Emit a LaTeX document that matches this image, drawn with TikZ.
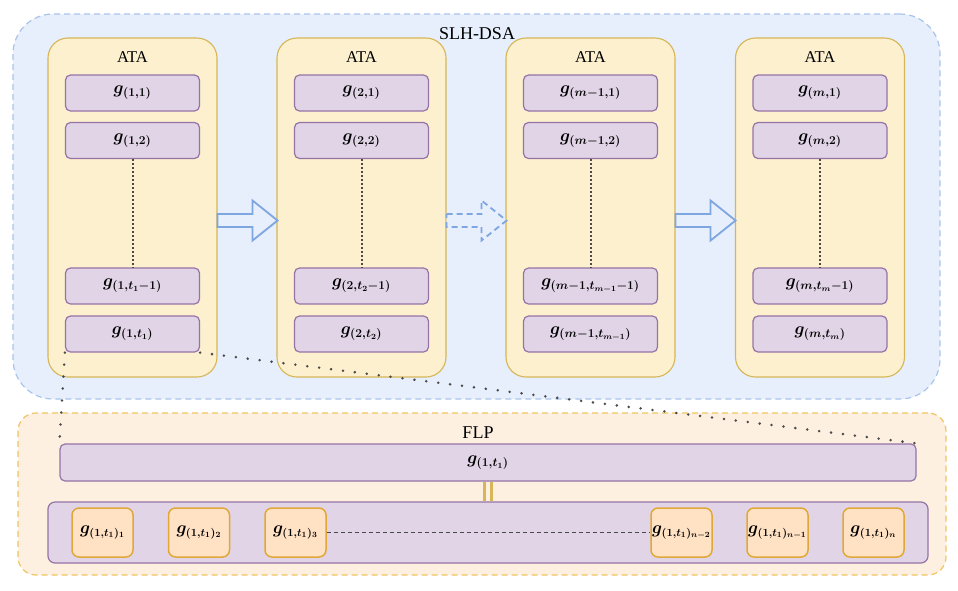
\documentclass[tikz,border=0pt]{standalone}
\usepackage{amsmath}
\usepackage{fontspec}
\setmainfont{Liberation Serif}
\usetikzlibrary{calc}
\definecolor{bluefill}{HTML}{E7EFFC}
\definecolor{bluedraw}{HTML}{A9C4EB}
\definecolor{arrowblue}{HTML}{7EA6E0}
\definecolor{atafill}{HTML}{FCF0CF}
\definecolor{atadraw}{HTML}{D6B656}
\definecolor{purfill}{HTML}{E0D4E6}
\definecolor{purdraw}{HTML}{9673A6}
\definecolor{flpfill}{HTML}{FDF0E0}
\definecolor{flpdraw}{HTML}{F0C462}
\definecolor{orfill}{HTML}{FFE1C4}
\definecolor{ordraw}{HTML}{E0A838}
\definecolor{dotgray}{HTML}{4A4A4A}
\tikzset{
  bluegrp/.style={draw=bluedraw, fill=bluefill, dash pattern=on 6pt off 4pt, line width=1.2pt, rounded corners=40pt, inner sep=0pt},
  flpgrp/.style={draw=flpdraw, fill=flpfill, dash pattern=on 6pt off 4pt, line width=1.2pt, rounded corners=18pt, inner sep=0pt},
  atabox/.style={draw=atadraw, fill=atafill, line width=1.1pt, rounded corners=20pt, minimum width=169pt, minimum height=339pt, inner sep=0pt},
  gbox/.style={draw=purdraw, fill=purfill, line width=1.2pt, rounded corners=5pt, minimum width=134pt, minimum height=36pt, inner sep=0pt, font=\fontsize{16.5}{19}\selectfont\boldmath},
  contbox/.style={draw=purdraw, fill=purfill, line width=1.2pt, rounded corners=7pt, inner sep=0pt},
  obox/.style={draw=ordraw, fill=orfill, line width=1.5pt, rounded corners=7pt, minimum width=61pt, minimum height=49pt, inner sep=0pt, font=\fontsize{16}{19}\selectfont\boldmath},
  titletext/.style={font=\fontsize{18}{21}\selectfont, inner sep=0pt},
  atatext/.style={font=\fontsize{16.5}{19}\selectfont, inner sep=0pt},
  blockarrow/.style={draw=arrowblue, fill=bluefill, line width=1.8pt, line join=miter},
  vdots/.style={draw=dotgray, line width=2pt, dash pattern=on 2pt off 2pt},
  zoomdots/.style={draw=dotgray, line width=2.8pt, line cap=round, dash pattern=on 0pt off 12pt},
  hdash/.style={draw=dotgray, line width=1.5pt, dash pattern=on 4pt off 3pt},
  dblline/.style={draw=atadraw, line width=2.8pt},
}
\begin{document}
\begin{tikzpicture}[x=1pt,y=-1pt]
\useasboundingbox (0,0) rectangle (958,590);
% SLH-DSA group
\node[bluegrp, minimum width=927pt, minimum height=385pt] (slh) at (476.5,206.5) {};
\node[titletext] (slhlbl) at (477,34) {SLH-DSA};
% ATA columns
\foreach \i/\x in {1/132.5, 2/361.5, 3/590.5, 4/820} {
  \node[atabox] (ata\i) at (\x,207.5) {};
  \node[atatext] (atalbl\i) at (\x,57) {ATA};
}
% g boxes
\node[gbox] (g11) at (132.5,93) {$g_{(1,1)}$};
\node[gbox] (g12) at (132.5,140.5) {$g_{(1,2)}$};
\node[gbox] (g13) at (132.5,286) {$g_{(1,t_1-1)}$};
\node[gbox] (g14) at (132.5,334) {$g_{(1,t_1)}$};
\node[gbox] (g21) at (361.5,93) {$g_{(2,1)}$};
\node[gbox] (g22) at (361.5,140.5) {$g_{(2,2)}$};
\node[gbox] (g23) at (361.5,286) {$g_{(2,t_2-1)}$};
\node[gbox] (g24) at (361.5,334) {$g_{(2,t_2)}$};
\node[gbox] (g31) at (590.5,93) {$g_{(m-1,1)}$};
\node[gbox] (g32) at (590.5,140.5) {$g_{(m-1,2)}$};
\node[gbox] (g33) at (590.5,286) {$g_{(m-1,t_{m-1}-1)}$};
\node[gbox] (g34) at (590.5,334) {$g_{(m-1,t_{m-1})}$};
\node[gbox] (g41) at (820,93) {$g_{(m,1)}$};
\node[gbox] (g42) at (820,140.5) {$g_{(m,2)}$};
\node[gbox] (g43) at (820,286) {$g_{(m,t_m-1)}$};
\node[gbox] (g44) at (820,334) {$g_{(m,t_m)}$};
\foreach \i in {1,2,3,4} {
  \draw[vdots] (g\i2.south) -- (g\i3.north);
}
% block arrows
\draw[blockarrow] ([yshift=-6.5pt]ata1.east) -- ++(35,0) -- ++(0,-13.5) -- ++(25,20) -- ++(-25,20) -- ++(0,-13.5) -- ++(-35,0) -- cycle;
\draw[blockarrow, dash pattern=on 6pt off 4pt] ([yshift=-6.5pt]ata2.east) -- ++(35,0) -- ++(0,-13.5) -- ++(25,20) -- ++(-25,20) -- ++(0,-13.5) -- ++(-35,0) -- cycle;
\draw[blockarrow] ([yshift=-6.5pt]ata3.east) -- ++(35,0) -- ++(0,-13.5) -- ++(25,20) -- ++(-25,20) -- ++(0,-13.5) -- ++(-35,0) -- cycle;
% FLP group
\node[flpgrp, minimum width=928pt, minimum height=162pt] (flp) at (482,494) {};
\node[titletext] (flplbl) at (478,433) {FLP};
\node[gbox, minimum width=856pt, minimum height=37pt] (flpg) at (488,462.5) {$g_{(1,t_1)}$};
\node[contbox, minimum width=880pt, minimum height=61pt] (cont) at (488,532.5) {};
\draw[dblline] ([xshift=-3.5pt]flpg.south) -- ([xshift=-3.5pt]cont.north);
\draw[dblline] ([xshift=3.5pt]flpg.south) -- ([xshift=3.5pt]cont.north);
\node[obox] (o1) at (102.5,532.5) {$g_{(1,t_1)_1}$};
\node[obox] (o2) at (199,532.5) {$g_{(1,t_1)_2}$};
\node[obox] (o3) at (295.5,532.5) {$g_{(1,t_1)_3}$};
\node[obox] (o4) at (681.5,532.5) {$g_{(1,t_1)_{n-2}}$};
\node[obox] (o5) at (777.5,532.5) {$g_{(1,t_1)_{n-1}}$};
\node[obox] (o6) at (873.5,532.5) {$g_{(1,t_1)_n}$};
\draw[hdash] (o3.east) -- (o4.west);
% zoom lines
\draw[zoomdots] (g14.south west) -- (flpg.north west);
\draw[zoomdots] (g14.south east) -- (flpg.north east);
\end{tikzpicture}
\end{document}
